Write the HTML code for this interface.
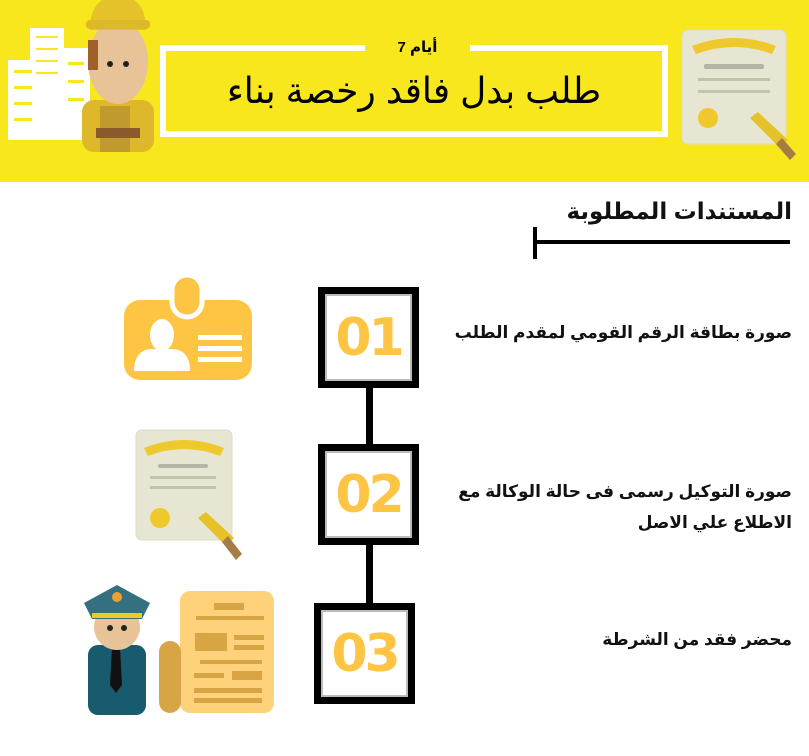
<!DOCTYPE html>
<html><head><meta charset="utf-8"><style>
body{margin:0;width:809px;height:756px;background:#fff;position:relative;overflow:hidden;font-family:"Liberation Sans","DejaVu Sans",sans-serif}
.a{position:absolute}
.box{position:absolute;width:87px;height:87px;border:7px solid #000;background:#fff;box-shadow:inset 0 0 0 2px #bbb;color:#fdc543;font:900 52px "DejaVu Sans",sans-serif;display:flex;align-items:center;justify-content:center;letter-spacing:-3px}
.t{position:absolute;right:17px;direction:rtl;font-weight:bold;font-size:17px;color:#111;text-align:right}
</style></head><body>
<div class="a" style="left:0;top:0;width:809px;height:182px;background:#f9e71e"></div>
<div class="a" style="left:160px;top:45px;width:496px;height:80px;border:6px solid #fff"></div>
<div class="a" style="left:365px;top:38px;width:105px;height:20px;background:#f9e71e"></div>
<div class="a" style="left:365px;top:38px;width:105px;text-align:center;direction:rtl;font-weight:bold;font-size:15px;letter-spacing:4px">أيام 7</div>
<div class="a" style="left:160px;top:70px;width:508px;text-align:center;direction:rtl;font-size:36px;color:#000">طلب بدل فاقد رخصة بناء</div>
<svg class="a" style="left:0;top:0" width="160" height="160">
<rect x="30" y="28" width="34" height="112" fill="#fff"/><rect x="8" y="60" width="30" height="80" fill="#fff"/><rect x="62" y="48" width="28" height="92" fill="#fff"/>
<g fill="#f9e71e"><rect x="36" y="36" width="22" height="2"/><rect x="36" y="48" width="22" height="2"/><rect x="36" y="60" width="22" height="2"/><rect x="36" y="72" width="22" height="2"/><rect x="14" y="70" width="18" height="3"/><rect x="14" y="86" width="18" height="3"/><rect x="14" y="102" width="18" height="3"/><rect x="14" y="118" width="18" height="3"/><rect x="68" y="62" width="16" height="3"/><rect x="68" y="80" width="16" height="3"/><rect x="68" y="98" width="16" height="3"/></g>
<rect x="82" y="100" width="72" height="52" rx="12" fill="#dcb82a"/>
<rect x="100" y="106" width="30" height="46" fill="#c19a2e"/>
<rect x="96" y="128" width="44" height="10" fill="#8b5a2b"/>
<ellipse cx="118" cy="62" rx="30" ry="42" fill="#e9c398"/>
<rect x="88" y="40" width="10" height="30" fill="#a0602a"/>
<circle cx="110" cy="64" r="3" fill="#222"/><circle cx="126" cy="64" r="3" fill="#222"/>
<path d="M90 30 Q90 -4 118 -4 Q146 -4 146 30 Z" fill="#e6c22a"/><rect x="86" y="20" width="64" height="9" rx="4" fill="#dcb82a"/>
</svg>
<svg class="a" style="left:680px;top:28px" width="120" height="140">
<rect x="2" y="2" width="104" height="114" rx="6" fill="#e7e6d2" stroke="#dcdcc8"/>
<path d="M12 18 Q54 2 96 18 L92 26 Q54 12 16 26Z" fill="#efc82c"/>
<rect x="24" y="36" width="60" height="5" rx="2" fill="#b5b5a5"/><rect x="18" y="50" width="72" height="3" fill="#c2c2b0"/><rect x="18" y="62" width="72" height="3" fill="#c2c2b0"/>
<circle cx="28" cy="90" r="10" fill="#efc82c"/><path d="M70 90 L100 120 L108 112 L78 84Z" fill="#e6c22a"/><path d="M96 116 L110 132 L116 126 L102 110Z" fill="#a67c45"/>
</svg>
<div class="t" style="top:198px;font-size:23px">المستندات المطلوبة</div>
<div class="a" style="left:535px;top:240px;width:255px;height:4px;background:#000"></div>
<div class="a" style="left:533px;top:227px;width:4px;height:32px;background:#000"></div>
<div class="a" style="left:366px;top:385px;width:7px;height:62px;background:#000"></div>
<div class="a" style="left:366px;top:542px;width:7px;height:64px;background:#000"></div>
<div class="box" style="left:318px;top:287px">01</div>
<div class="box" style="left:318px;top:444px">02</div>
<div class="box" style="left:314px;top:603px">03</div>
<div class="t" style="top:323px">صورة بطاقة الرقم القومي لمقدم الطلب</div>
<div class="t" style="top:476px;line-height:31px">صورة التوكيل رسمى فى حالة الوكالة مع<br>الاطلاع علي الاصل</div>
<div class="t" style="top:630px">محضر فقد من الشرطة</div>
<svg class="a" style="left:120px;top:275px" width="140" height="110">
<rect x="4" y="25" width="128" height="80" rx="16" fill="#fdc543"/>
<rect x="52" y="0" width="30" height="42" rx="15" fill="#fdc543" stroke="#fff" stroke-width="5"/>
<ellipse cx="42" cy="60" rx="12" ry="16" fill="#fff"/><path d="M14 96 Q14 76 30 74 L54 74 Q70 76 70 96Z" fill="#fff"/>
<rect x="78" y="60" width="44" height="5" fill="#fff"/><rect x="78" y="71" width="44" height="5" fill="#fff"/><rect x="78" y="82" width="44" height="5" fill="#fff"/>
</svg>
<svg class="a" style="left:134px;top:428px" width="110" height="140">
<rect x="2" y="2" width="96" height="110" rx="6" fill="#e7e6d2" stroke="#dcdcc8"/>
<path d="M10 20 Q50 4 90 20 L86 28 Q50 14 14 28Z" fill="#efc82c"/>
<rect x="24" y="36" width="50" height="4" rx="2" fill="#b5b5a5"/><rect x="16" y="48" width="66" height="3" fill="#c2c2b0"/><rect x="16" y="58" width="66" height="3" fill="#c2c2b0"/>
<circle cx="26" cy="90" r="10" fill="#efc82c"/><path d="M64 90 L92 118 L100 110 L72 84Z" fill="#e6c22a"/><path d="M88 114 L102 132 L108 126 L94 108Z" fill="#a67c45"/>
</svg>
<svg class="a" style="left:80px;top:583px" width="200" height="135">
<rect x="100" y="8" width="94" height="122" rx="10" fill="#fdd27a"/>
<rect x="79" y="58" width="22" height="72" rx="11" fill="#d8a545"/>
<rect x="134" y="20" width="30" height="7" fill="#d8a545"/><rect x="116" y="33" width="68" height="4" fill="#d8a545"/>
<rect x="115" y="50" width="32" height="18" fill="#d8a545"/><rect x="154" y="52" width="30" height="5" fill="#d8a545"/><rect x="154" y="62" width="30" height="5" fill="#d8a545"/>
<rect x="120" y="77" width="62" height="4" fill="#d8a545"/><rect x="114" y="90" width="30" height="5" fill="#d8a545"/><rect x="152" y="88" width="30" height="9" fill="#d8a545"/>
<rect x="114" y="105" width="68" height="5" fill="#d8a545"/><rect x="114" y="115" width="68" height="5" fill="#d8a545"/>
<rect x="8" y="62" width="58" height="70" rx="10" fill="#185a6e"/>
<path d="M32 64 L40 64 L42 102 L36 110 L30 102Z" fill="#111"/>
<circle cx="37" cy="44" r="23" fill="#e9c398"/>
<circle cx="30" cy="45" r="3" fill="#222"/><circle cx="44" cy="45" r="3" fill="#222"/>
<path d="M4 20 L37 2 L70 20 L62 36 L12 36Z" fill="#357080"/><rect x="12" y="30" width="50" height="5" fill="#efc82c"/>
<circle cx="37" cy="14" r="5" fill="#f0a030"/>
</svg>
</body></html>
